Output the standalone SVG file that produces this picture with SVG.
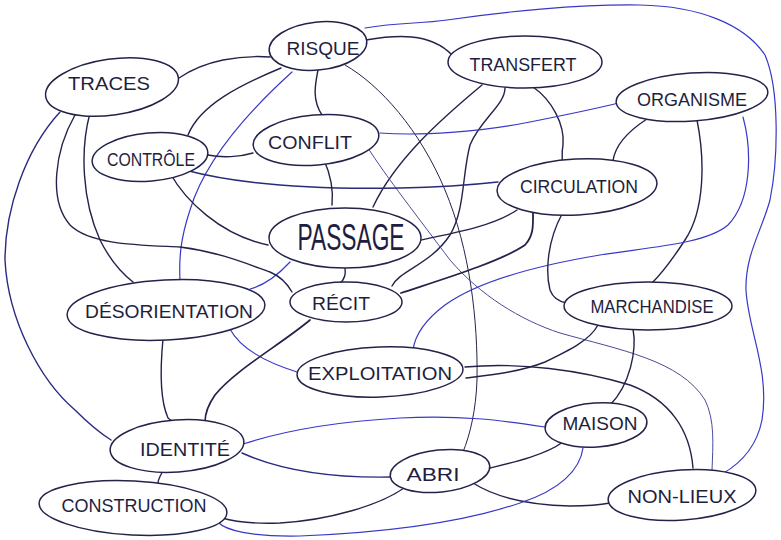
<svg xmlns="http://www.w3.org/2000/svg" width="781" height="540" viewBox="0 0 781 540">
<defs>
<style>
.k{fill:none;stroke:#23234a;stroke-width:1.4;stroke-linecap:round}
.b{fill:none;stroke:#3838c8;stroke-width:1.2;stroke-linecap:round}
.n ellipse{fill:#fff;stroke:#23234a;stroke-width:1.5}
.n text{font-family:"Liberation Sans","DejaVu Sans",sans-serif;font-size:19px;fill:#1e1e40;text-anchor:middle}
</style>
</defs>
<rect width="781" height="540" fill="#fff"/>
<g id="connectors">
<path class="k" d="M270 57 C240 55 205 60 179 78"/>
<path class="k" d="M366 40 C395 35 430 32 452 55"/>
<path class="b" d="M365 28 C400 22 420 24 447 20 C500 12 580 4 640 5 C700 6 745 25 765 55 C780 90 778 160 770 200 C762 230 745 255 746 290 C748 330 770 370 762 420 C756 450 738 465 722 474"/>
<path class="k" d="M281 68 C240 85 200 105 188 135"/>
<path class="b" d="M292 72 C250 110 205 160 190 210 C180 240 179 260 180 281"/>
<path class="k" d="M318 70 C315 85 312 100 322 115"/>
<path class="k" style="stroke-width:1" d="M345 65 C380 85 420 130 445 190 C470 250 478 320 477 380 C476 410 470 435 463 452"/>
<path class="k" d="M482 85 C440 120 395 160 373 207"/>
<path class="k" d="M505 88 C505 105 480 120 470 145 C462 175 465 210 450 235 C430 265 400 270 392 286"/>
<path class="k" d="M533 87 C552 100 565 125 563 145 C561 155 563 160 562 162"/>
<path class="k" d="M647 119 C630 130 615 145 613 161"/>
<path class="k" d="M697 120 C705 160 705 210 685 240 C672 260 660 275 652 283"/>
<path class="b" d="M743 117 C752 150 752 200 728 225 C705 245 640 248 600 255 C540 265 480 280 445 305 C425 320 415 335 413 350"/>
<path class="b" d="M380 133 C420 136 480 132 530 122 C570 114 600 108 618 103"/>
<path class="b" style="stroke-width:1;stroke:#4a4a9a" d="M368 148 C385 175 420 220 450 260 C480 295 520 320 560 333 C620 350 680 360 705 400 C715 420 713 445 712 470"/>
<path class="k" d="M208 155 C222 158 240 157 253 153"/>
<path class="k" style="stroke:#2a2a7a" d="M185 170 C230 182 300 190 400 188 C450 187 480 184 498 182"/>
<path class="k" d="M170 173 C185 200 220 235 268 245"/>
<path class="k" d="M324 160 C333 180 333 195 332 205"/>
<path class="k" d="M421 240 C460 232 495 225 517 210"/>
<path class="k" style="stroke-width:1.8" d="M401 293 C440 280 500 262 525 245 C534 235 533 225 533 213"/>
<path class="k" d="M562 214 C548 240 545 270 550 290 C553 298 560 302 567 303"/>
<path class="b" d="M290 262 C278 275 265 285 250 289"/>
<path class="k" d="M345 268 C346 275 344 280 340 283"/>
<path class="k" d="M75 115 C55 150 48 200 70 225 C90 245 140 245 180 247 C220 252 250 265 270 272 C282 277 288 285 292 292"/>
<path class="k" d="M90 113 C80 150 82 200 100 240 C110 260 120 272 133 282"/>
<path class="k" style="stroke:#2a2a80" d="M60 112 C25 150 5 210 5 260 C8 320 40 380 75 410 C90 425 100 433 111 440"/>
<path class="k" d="M163 339 C160 370 160 400 168 418 C172 422 176 422 180 421"/>
<path class="b" d="M230 329 C240 348 265 362 297 372"/>
<path class="k" style="stroke-width:1.7" d="M310 320 C280 345 235 370 215 395 C208 405 205 415 205 422"/>
<path class="k" d="M465 367 C520 362 580 370 630 385 C670 400 690 430 693 468"/>
<path class="k" d="M466 378 C490 375 520 372 545 362 C570 350 590 340 598 325"/>
<path class="k" d="M633 329 C637 350 630 385 610 405"/>
<path class="b" d="M545 427 C500 420 460 415 400 418 C330 422 280 432 243 444"/>
<path class="k" style="stroke:#2a2a80" d="M242 453 C280 470 330 478 390 477"/>
<path class="k" d="M490 468 C515 462 545 455 563 442"/>
<path class="k" d="M473 483 C495 497 530 505 570 506 C590 506 605 504 610 503"/>
<path class="k" d="M404 488 C380 505 330 520 280 523 C250 524 235 522 222 518"/>
<path class="b" d="M583 448 C580 470 560 490 520 503 C470 520 400 532 300 536 C250 537 225 530 218 522"/>
<path class="k" d="M163 471 C160 476 158 480 158 483"/>
</g>
<g id="traces" class="n"><ellipse cx="112" cy="87" rx="67" ry="28" transform="rotate(-8 112 87)"/><text x="109" y="90" textLength="82" lengthAdjust="spacingAndGlyphs">TRACES</text></g>
<g id="risque" class="n"><ellipse cx="318" cy="46" rx="49" ry="24" transform="rotate(-6 318 46)"/><text x="323" y="55" textLength="73" lengthAdjust="spacingAndGlyphs">RISQUE</text></g>
<g id="transfert" class="n"><ellipse cx="525" cy="62" rx="77" ry="26"/><text x="523" y="71" textLength="107" lengthAdjust="spacingAndGlyphs">TRANSFERT</text></g>
<g id="organisme" class="n"><ellipse cx="692" cy="97" rx="76" ry="24" transform="rotate(-4 692 97)"/><text x="692" y="106" textLength="110" lengthAdjust="spacingAndGlyphs">ORGANISME</text></g>
<g id="controle" class="n"><ellipse cx="150" cy="157" rx="58" ry="24" transform="rotate(-5 150 157)"/><text x="151" y="166" textLength="88" lengthAdjust="spacingAndGlyphs">CONTRÔLE</text></g>
<g id="conflit" class="n"><ellipse cx="316" cy="140" rx="63" ry="25" transform="rotate(-5 316 140)"/><text x="310" y="149" textLength="84" lengthAdjust="spacingAndGlyphs">CONFLIT</text></g>
<g id="circulation" class="n"><ellipse cx="577" cy="187" rx="80" ry="28" transform="rotate(-3 577 187)"/><text x="579" y="193" textLength="118" lengthAdjust="spacingAndGlyphs">CIRCULATION</text></g>
<g id="passage" class="n"><ellipse cx="345" cy="238" rx="76" ry="30"/><text x="351" y="250" style="font-size:36px" textLength="107" lengthAdjust="spacingAndGlyphs">PASSAGE</text></g>
<g id="desorientation" class="n"><ellipse cx="166" cy="310" rx="99" ry="30" transform="rotate(-3 166 310)"/><text x="169" y="318" textLength="168" lengthAdjust="spacingAndGlyphs">DÉSORIENTATION</text></g>
<g id="recit" class="n"><ellipse cx="346" cy="302" rx="56" ry="20"/><text x="341" y="310" textLength="58" lengthAdjust="spacingAndGlyphs">RÉCIT</text></g>
<g id="marchandise" class="n"><ellipse cx="648" cy="306" rx="84" ry="24"/><text x="652" y="313" textLength="123" lengthAdjust="spacingAndGlyphs">MARCHANDISE</text></g>
<g id="exploitation" class="n"><ellipse cx="380" cy="372" rx="83" ry="25" transform="rotate(-2 380 372)"/><text x="380" y="380" textLength="144" lengthAdjust="spacingAndGlyphs">EXPLOITATION</text></g>
<g id="identite" class="n"><ellipse cx="177" cy="446" rx="67" ry="26" transform="rotate(-4 177 446)"/><text x="185" y="456" textLength="90" lengthAdjust="spacingAndGlyphs">IDENTITÉ</text></g>
<g id="maison" class="n"><ellipse cx="596" cy="425" rx="51" ry="22" transform="rotate(-4 596 425)"/><text x="600" y="430" textLength="75" lengthAdjust="spacingAndGlyphs">MAISON</text></g>
<g id="abri" class="n"><ellipse cx="440" cy="471" rx="50" ry="21" transform="rotate(-6 440 471)"/><text x="433" y="481" textLength="53" lengthAdjust="spacingAndGlyphs">ABRI</text></g>
<g id="construction" class="n"><ellipse cx="133" cy="508" rx="94" ry="27" transform="rotate(3 133 508)"/><text x="134" y="512" textLength="145" lengthAdjust="spacingAndGlyphs">CONSTRUCTION</text></g>
<g id="non-lieux" class="n"><ellipse cx="682" cy="495" rx="74" ry="25" transform="rotate(-4 682 495)"/><text x="682" y="503" textLength="109" lengthAdjust="spacingAndGlyphs">NON-LIEUX</text></g>
</svg>
